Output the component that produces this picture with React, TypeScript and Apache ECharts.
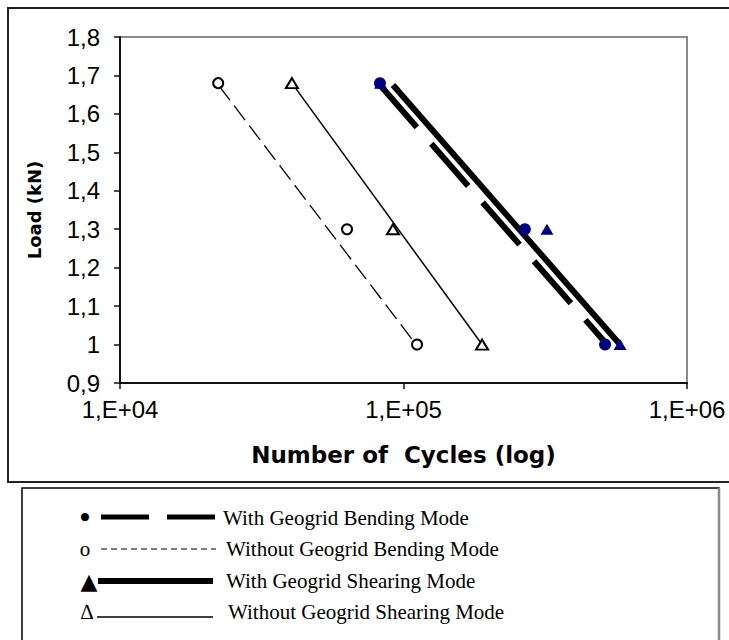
import { useEffect, useRef } from "react";
import * as echarts from "echarts";

// ---- Data ----
const loadLevels = [1.68, 1.3, 1.0];

// measured points (Number of cycles)
const withBendingCycles = [82600, 268000, 514000];
const withoutBendingCycles = [22200, 63200, 111600];
const withShearingCycles = [83000, 320600, 580600];
const withoutShearingCycles = [40400, 91800, 189300];

// trend lines (start, end)
const withBendingTrendCycles = [82600, 522000];
const withBendingTrendLoads = [1.675, 1.0];
const withoutBendingTrendCycles = [22340, 108900];
const withoutBendingTrendLoads = [1.673, 1.007];
const withShearingTrendCycles = [91800, 580500];
const withShearingTrendLoads = [1.675, 1.0];
const withoutShearingTrendCycles = [40400, 189300];
const withoutShearingTrendLoads = [1.68, 1.0];

const legendNames = [
  "With Geogrid Bending Mode",
  "Without Geogrid Bending Mode",
  "With Geogrid Shearing Mode",
  "Without Geogrid Shearing Mode",
];
const legendSymbols = ["•", "o", "▲", "Δ"];

const xAxisTitle = "Number of  Cycles (log)";
const yAxisTitle = "Load (kN)";

const zip = (xs: number[], ys: number[]) => xs.map((x, i) => [x, ys[i]]);

export default function App() {
  const ref = useRef<HTMLDivElement>(null);

  useEffect(() => {
    if (!ref.current) return;
    const chart = echarts.init(ref.current, undefined, { renderer: "svg" });
    const navy = "#000080";

    const legendRowsY = [518, 549, 581, 612];
    const serif = "Liberation Serif";

    const option: any = {
      animation: false,
      backgroundColor: "#fff",
      textStyle: { fontFamily: "Liberation Sans", color: "#000" },
      grid: {
        left: 120,
        top: 37,
        right: 42,
        bottom: 257,
        show: true,
        borderColor: "#8a8a8a",
        borderWidth: 2,
        backgroundColor: "#fff",
      },
      xAxis: {
        type: "log",
        logBase: 10,
        min: 10000,
        max: 1000000,
        name: xAxisTitle,
        nameLocation: "middle",
        nameGap: 60,
        nameTextStyle: {
          fontFamily: "DejaVu Sans",
          fontWeight: "bold",
          fontSize: 23,
          color: "#000",
        },
        axisLine: { show: true, onZero: false, lineStyle: { color: "#111", width: 2 } },
        axisTick: { show: true, inside: false, length: 6, lineStyle: { color: "#111", width: 1.5 } },
        minorTick: { show: false },
        splitLine: { show: false },
        minorSplitLine: { show: false },
        axisLabel: {
          fontSize: 24,
          color: "#000",
          margin: 14,
          fontFamily: "Liberation Sans",
          formatter: (v: number) => {
            const e = Math.round(Math.log10(v));
            return "1,E+" + String(e).padStart(2, "0");
          },
        },
      },
      yAxis: {
        type: "value",
        min: 0.9,
        max: 1.8,
        interval: 0.1,
        name: yAxisTitle,
        nameLocation: "middle",
        nameGap: 77,
        nameTextStyle: {
          fontFamily: "DejaVu Sans",
          fontWeight: "bold",
          fontSize: 18,
          color: "#000",
        },
        axisLine: { show: true, onZero: false, lineStyle: { color: "#111", width: 2 } },
        axisTick: { show: true, inside: false, length: 6, lineStyle: { color: "#111", width: 1.5 } },
        splitLine: { show: false },
        axisLabel: {
          fontSize: 24,
          color: "#000",
          margin: 20,
          fontFamily: "Liberation Sans",
          formatter: (v: number) => String(Number(v.toFixed(1))).replace(".", ","),
        },
      },
      series: [
        {
          name: legendNames[1] + " trend",
          type: "line",
          data: zip(withoutBendingTrendCycles, withoutBendingTrendLoads),
          symbol: "none",
          silent: true,
          lineStyle: { color: "#000", width: 1.3, type: [18, 7] },
        },
        {
          name: legendNames[3] + " trend",
          type: "line",
          data: zip(withoutShearingTrendCycles, withoutShearingTrendLoads),
          symbol: "none",
          silent: true,
          lineStyle: { color: "#000", width: 1.5 },
        },
        {
          name: legendNames[0] + " trend",
          type: "line",
          data: zip(withBendingTrendCycles, withBendingTrendLoads),
          symbol: "none",
          silent: true,
          lineStyle: { color: "#000", width: 6, type: [56, 22], cap: "butt" },
        },
        {
          name: legendNames[2] + " trend",
          type: "line",
          data: zip(withShearingTrendCycles, withShearingTrendLoads),
          symbol: "none",
          silent: true,
          lineStyle: { color: "#000", width: 6, cap: "butt" },
        },
        {
          name: legendNames[1],
          type: "scatter",
          data: zip(withoutBendingCycles, loadLevels),
          symbol: "circle",
          symbolSize: 10,
          itemStyle: { color: "#fff", borderColor: "#000", borderWidth: 2, opacity: 1 },
          z: 5,
        },
        {
          name: legendNames[3],
          type: "scatter",
          data: zip(withoutShearingCycles, loadLevels),
          symbol: "triangle",
          symbolSize: [12, 10],
          itemStyle: { color: "#fff", borderColor: "#000", borderWidth: 2, opacity: 1 },
          z: 5,
        },
        {
          name: legendNames[2],
          type: "scatter",
          data: zip(withShearingCycles, loadLevels),
          symbol: "triangle",
          symbolSize: [13, 11],
          itemStyle: { color: navy, opacity: 1 },
          z: 5,
        },
        {
          name: legendNames[0],
          type: "scatter",
          data: zip(withBendingCycles, loadLevels),
          symbol: "circle",
          symbolSize: 12,
          itemStyle: { color: navy, opacity: 1 },
          z: 6,
        },
      ],
      graphic: [
        // outer chart frame
        {
          type: "rect",
          shape: { x: 8, y: 8, width: 740, height: 474 },
          style: { fill: "none", stroke: "#222", lineWidth: 2 },
          silent: true,
        },
        // legend frame
        {
          type: "rect",
          shape: { x: 22, y: 488, width: 697, height: 170 },
          style: { fill: "none", stroke: "#000", lineWidth: 1.5 },
          silent: true,
        },
        {
          type: "line",
          shape: { x1: 719, y1: 488, x2: 719, y2: 645 },
          style: { stroke: "#8a8a8a", lineWidth: 2.5 },
          silent: true,
        },
        // legend row 1
        {
          type: "text",
          x: 85,
          y: legendRowsY[0] - 1,
          style: { text: legendSymbols[0], fontFamily: serif, fontSize: 34, fill: "#000", align: "center", verticalAlign: "middle" },
        },
        {
          type: "line",
          shape: { x1: 101, y1: legendRowsY[0] - 1, x2: 215, y2: legendRowsY[0] - 1 },
          style: { stroke: "#000", lineWidth: 5, lineDash: [48, 18], lineCap: "butt" },
        },
        {
          type: "text",
          x: 223,
          y: legendRowsY[0],
          style: { text: legendNames[0], fontFamily: serif, fontSize: 21, fill: "#000", verticalAlign: "middle" },
        },
        // legend row 2
        {
          type: "text",
          x: 85,
          y: legendRowsY[1],
          style: { text: legendSymbols[1], fontFamily: serif, fontSize: 21, fill: "#000", align: "center", verticalAlign: "middle" },
        },
        {
          type: "line",
          shape: { x1: 101, y1: legendRowsY[1], x2: 216, y2: legendRowsY[1] },
          style: { stroke: "#555", lineWidth: 1.5, lineDash: [6, 4] },
        },
        {
          type: "text",
          x: 226,
          y: legendRowsY[1],
          style: { text: legendNames[1], fontFamily: serif, fontSize: 21, fill: "#000", verticalAlign: "middle" },
        },
        // legend row 3
        {
          type: "text",
          x: 89,
          y: legendRowsY[2],
          style: { text: legendSymbols[2], fontFamily: "DejaVu Sans", fontSize: 22, fill: "#000", align: "center", verticalAlign: "middle" },
        },
        {
          type: "line",
          shape: { x1: 98, y1: legendRowsY[2], x2: 213, y2: legendRowsY[2] },
          style: { stroke: "#000", lineWidth: 6, lineCap: "butt" },
        },
        {
          type: "text",
          x: 226,
          y: legendRowsY[2],
          style: { text: legendNames[2], fontFamily: serif, fontSize: 21, fill: "#000", verticalAlign: "middle" },
        },
        // legend row 4
        {
          type: "text",
          x: 87,
          y: legendRowsY[3],
          style: { text: legendSymbols[3], fontFamily: serif, fontSize: 21, fill: "#000", align: "center", verticalAlign: "middle" },
        },
        {
          type: "line",
          shape: { x1: 97, y1: legendRowsY[3] + 5, x2: 213, y2: legendRowsY[3] + 5 },
          style: { stroke: "#000", lineWidth: 1.5 },
        },
        {
          type: "text",
          x: 228,
          y: legendRowsY[3],
          style: { text: legendNames[3], fontFamily: serif, fontSize: 21, fill: "#000", verticalAlign: "middle" },
        },
      ],
    };

    chart.setOption(option);
    return () => chart.dispose();
  }, []);

  return (
    <div
      ref={ref}
      style={{ position: "absolute", left: 0, top: 0, width: 729, height: 640, background: "#fff" }}
    />
  );
}
